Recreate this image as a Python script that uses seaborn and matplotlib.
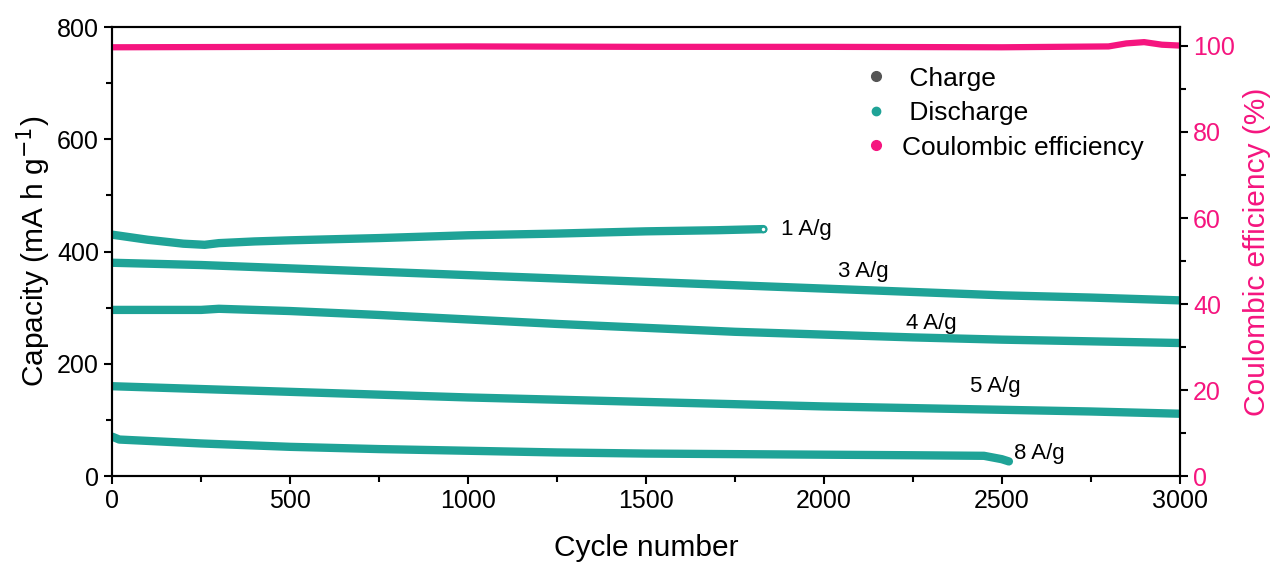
import seaborn as sns
import numpy as np
import pandas as pd
import matplotlib.pyplot as plt
from matplotlib.lines import Line2D
from matplotlib.ticker import MultipleLocator

sns.set_style('ticks')
plt.rcParams['font.family'] = ['Liberation Sans', 'DejaVu Sans']
plt.rcParams['text.color'] = 'black'
plt.rcParams['axes.labelcolor'] = 'black'
plt.rcParams['xtick.color'] = 'black'
plt.rcParams['ytick.color'] = 'black'
plt.rcParams['axes.edgecolor'] = 'black'

# data (cycle, capacity in mA h g-1)
cyc_1 = [1, 100, 200, 260, 300, 400, 500, 750, 1000, 1250, 1500, 1700, 1830]
cap_1 = [430, 421, 414, 412, 415, 418, 420, 424, 429, 432, 436, 438, 440]
cyc_3 = [1, 250, 500, 750, 1000, 1250, 1500, 1750, 2000, 2250, 2500, 2750, 3000]
cap_3 = [380, 376, 370, 364, 358, 352, 346, 340, 334, 328, 322, 318, 313]
cyc_4 = [1, 250, 300, 500, 750, 1000, 1250, 1500, 1750, 2000, 2250, 2500, 2750, 3000]
cap_4 = [296, 296, 298, 294, 287, 279, 271, 264, 257, 252, 247, 243, 240, 237]
cyc_5 = [1, 250, 500, 750, 1000, 1250, 1500, 1750, 2000, 2250, 2500, 2750, 3000]
cap_5 = [160, 155, 150, 145, 140, 136, 132, 128, 124, 121, 118, 115, 111]
cyc_8 = [1, 20, 250, 500, 750, 1000, 1250, 1500, 1750, 2000, 2250, 2450, 2500, 2520]
cap_8 = [70, 65, 58, 52, 48, 45, 42, 40, 39, 38, 37, 36, 30, 26]
cyc_ce = [1, 500, 1000, 1500, 2000, 2500, 2800, 2850, 2900, 2950, 3000]
ce = [99.7, 99.8, 99.9, 99.8, 99.8, 99.7, 99.9, 100.6, 100.9, 100.3, 100.1]

labels = ['1 A/g', '3 A/g', '4 A/g', '5 A/g', '8 A/g']
label_x = [1880, 2040, 2230, 2410, 2535]
label_y = [440, 364, 271, 159, 41]

teal = '#1FA397'
pink = '#F5157F'

fig = plt.figure(figsize=(12.74, 5.64), dpi=100)
ax = fig.add_axes([0.088, 0.156, 0.838, 0.796])
ax2 = ax.twinx()

for cx, cy in [(cyc_1, cap_1), (cyc_3, cap_3), (cyc_4, cap_4), (cyc_5, cap_5), (cyc_8, cap_8)]:
    sns.lineplot(x=cx, y=cy, ax=ax, color=teal, lw=6, solid_capstyle='round')
ax.plot(cyc_1[-1], cap_1[-1], 'o', ms=4, mfc='white', mec=teal, mew=1.5)

sns.lineplot(x=cyc_ce, y=ce, ax=ax2, color=pink, lw=4.5, solid_capstyle='round')

for t, tx, ty in zip(labels, label_x, label_y):
    ax.text(tx, ty, t, fontsize=16, va='center', ha='left')

ax.set_xlim(0, 3000)
ax.set_ylim(0, 800)
ax2.set_ylim(0, 104.4)
ax.xaxis.set_major_locator(MultipleLocator(500))
ax.xaxis.set_minor_locator(MultipleLocator(250))
ax.yaxis.set_major_locator(MultipleLocator(200))
ax.yaxis.set_minor_locator(MultipleLocator(100))
ax2.yaxis.set_major_locator(MultipleLocator(20))
ax2.yaxis.set_minor_locator(MultipleLocator(10))

ax.tick_params(which='major', length=6, width=1.5, labelsize=18)
ax.tick_params(which='minor', length=4, width=1.5)
ax2.tick_params(which='major', length=6, width=1.5, labelsize=18, labelcolor=pink)
ax2.tick_params(which='minor', length=4, width=1.5)
for a in (ax, ax2):
    for s in a.spines.values():
        s.set_linewidth(1.5)

ax.set_xlabel('Cycle number', fontsize=21.5, labelpad=15)
ax.set_ylabel('Capacity (mA h g$^{-1}$)', fontsize=21.5, labelpad=3)
ax2.set_ylabel('Coulombic efficiency (%)', fontsize=21.5, color=pink, labelpad=6)

handles = [Line2D([], [], ls='', marker='o', ms=7, color='#555555'),
           Line2D([], [], ls='', marker='o', ms=6, color=teal),
           Line2D([], [], ls='', marker='o', ms=7, color=pink)]
ax.legend(handles, [' Charge', ' Discharge', 'Coulombic efficiency'], frameon=False,
          fontsize=19, loc='upper left', bbox_to_anchor=(0.678, 0.965),
          handletextpad=0.4, labelspacing=0.4, handlelength=1.2)

fig.savefig('out.png', dpi=100)
